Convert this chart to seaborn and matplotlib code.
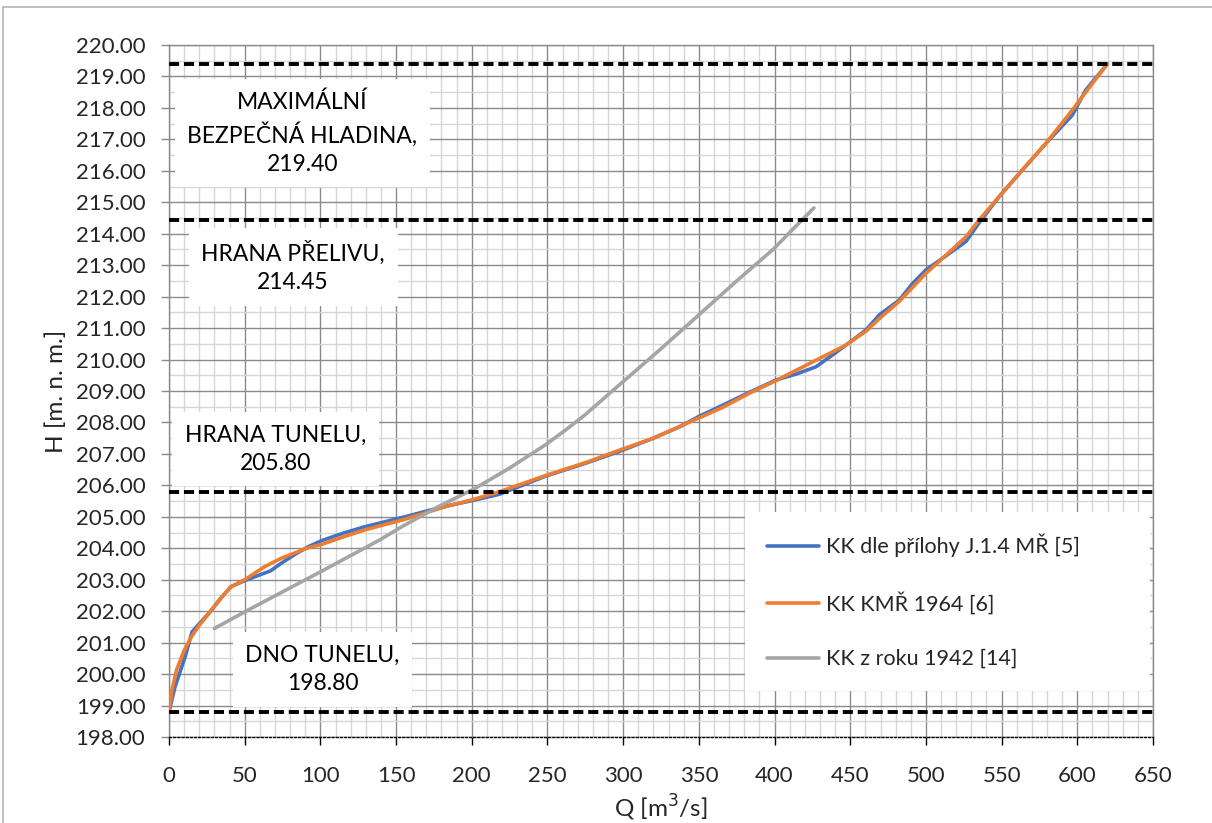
import numpy as np
import pandas as pd
import matplotlib
matplotlib.use("Agg")
import matplotlib.pyplot as plt
from matplotlib.lines import Line2D
from matplotlib.ticker import MultipleLocator, FixedLocator
import seaborn as sns

# Rating curve: KK dle přílohy J.1.4 MŘ [5]
q_j14 = [0, 4, 10.6, 15.2, 20, 27, 34, 41, 50, 58, 67, 74, 83, 92, 100.7, 115, 129,
         155.7, 181, 200.8, 218.4, 249.2, 275, 297.6, 320, 337.2, 350.4, 365.8, 383,
         401, 415, 427.4, 437, 447.2, 460.4, 469.2, 482.4, 491.2, 500, 511, 526.4,
         535.2, 548.4, 563.8, 579.2, 596.7, 605.6, 619.9]
h_j14 = [198.8, 199.6, 200.54, 201.34, 201.6, 201.97, 202.4, 202.78, 202.97, 203.12,
         203.28, 203.52, 203.8, 204.05, 204.24, 204.48, 204.68, 205.0, 205.32, 205.52,
         205.72, 206.3, 206.7, 207.08, 207.5, 207.86, 208.2, 208.55, 208.95, 209.35,
         209.55, 209.77, 210.1, 210.46, 210.94, 211.42, 211.89, 212.42, 212.85, 213.22,
         213.75, 214.35, 215.18, 216.03, 216.87, 217.77, 218.57, 219.4]

# Rating curve: KK KMŘ 1964 [6]
q_1964 = [0, 2, 5, 10, 15, 20, 27, 34, 41, 50, 63, 74, 92, 100.7, 115, 129, 155.7,
          181, 200.8, 218.4, 249.2, 275, 297.6, 320, 350.4, 365.8, 383, 401, 427.4,
          447.2, 460.4, 469.2, 482.4, 500, 511, 526.4, 535.2, 548.4, 563.8, 579.2,
          596.7, 605.6, 619.9]
h_1964 = [198.8, 199.5, 200.13, 200.75, 201.2, 201.55, 201.97, 202.4, 202.78, 203.0,
          203.41, 203.68, 204.02, 204.12, 204.36, 204.58, 204.92, 205.3, 205.55, 205.8,
          206.32, 206.72, 207.12, 207.5, 208.15, 208.48, 208.92, 209.33, 209.98,
          210.46, 210.9, 211.3, 211.85, 212.74, 213.22, 213.9, 214.44, 215.18, 216.03,
          216.87, 217.93, 218.5, 219.4]

# Rating curve: KK z roku 1942 [14]
q_1942 = [30, 52, 100, 139, 155, 179, 202, 225, 249, 262, 275, 297.6, 324, 337, 350,
          375, 399, 426]
h_1942 = [201.45, 202.03, 203.25, 204.26, 204.72, 205.35, 205.9, 206.55, 207.3, 207.76,
          208.25, 209.2, 210.3, 210.86, 211.42, 212.5, 213.5, 214.82]

series_names = ["KK dle přílohy J.1.4 MŘ [5]", "KK KMŘ 1964 [6]", "KK z roku 1942 [14]"]
series_colors = ["#4472C4", "#ED7D31", "#A5A5A5"]

# Reference levels
level_values = [219.40, 214.45, 205.80, 198.80]
level_labels = ["MAXIMÁLNÍ\nBEZPEČNÁ HLADINA,\n219.40",
                "HRANA PŘELIVU,\n214.45",
                "HRANA TUNELU,\n205.80",
                "DNO TUNELU,\n198.80"]
label_q = [88, 82, 70.5, 101.5]
label_h = [217.2, 212.95, 207.15, 200.15]

x_ticks = list(range(0, 651, 50))
y_ticks = list(np.arange(198, 220.01, 1.0))

df = pd.concat([
    pd.DataFrame({"Q": q_j14, "H": h_j14, "řada": series_names[0]}),
    pd.DataFrame({"Q": q_1964, "H": h_1964, "řada": series_names[1]}),
    pd.DataFrame({"Q": q_1942, "H": h_1942, "řada": series_names[2]}),
], ignore_index=True)

sns.set_theme(style="white")
plt.rcParams["font.family"] = ["Lato", "DejaVu Sans"]

W, H = 1212, 823
fig = plt.figure(figsize=(W / 100, H / 100), dpi=100)
fig.patch.set_facecolor("white")
left, right, top, bottom = 169, 1153, 45, 737
ax = fig.add_axes([left / W, 1 - bottom / H, (right - left) / W, (bottom - top) / H])

# outer chart frame
frame_kw = dict(color="#b4b4b4", lw=1.2, transform=fig.transFigure)
fig.add_artist(Line2D([3 / W, 3 / W], [0, 1 - 7 / H], **frame_kw))
fig.add_artist(Line2D([3 / W, 1], [1 - 7 / H, 1 - 7 / H], **frame_kw))

ax.set_xlim(0, 650)
ax.set_ylim(198, 220)
ax.xaxis.set_major_locator(FixedLocator(x_ticks))
ax.xaxis.set_minor_locator(MultipleLocator(10))
ax.yaxis.set_major_locator(FixedLocator(y_ticks))
ax.yaxis.set_minor_locator(MultipleLocator(0.5))
ax.set_yticklabels([f"{v:.2f}" for v in y_ticks])
ax.set_xticklabels([str(v) for v in x_ticks])

ax.grid(which="minor", color="#d6d6d6", lw=1.0, zorder=0)
ax.grid(which="major", color="#8a8a8a", lw=1.0, zorder=0)
ax.set_axisbelow(True)

sns.lineplot(data=df, x="Q", y="H", hue="řada", palette=series_colors,
             hue_order=series_names, estimator=None, sort=False, lw=2.6, ax=ax,
             zorder=3)
for ln in ax.get_lines():
    ln.set_solid_capstyle("round")
    ln.set_solid_joinstyle("round")

for lv in level_values:
    ax.axhline(lv, color="black", lw=2.8, ls=(0, (2.6, 1.25)), zorder=4, clip_on=False)

for txt, xq, yh in zip(level_labels, label_q, label_h):
    ax.text(xq, yh, txt, ha="center", va="center", fontsize=16.5, linespacing=1.42,
            color="black", zorder=5,
            bbox=dict(boxstyle="square,pad=0.55", fc="white", ec="none"))

for side in ["top", "right"]:
    ax.spines[side].set_visible(True)
    ax.spines[side].set_color("#8a8a8a")
    ax.spines[side].set_linewidth(1.0)
ax.spines["left"].set_color("#8a8a8a")
ax.spines["left"].set_linewidth(1.0)
ax.spines["bottom"].set_color("black")
ax.spines["bottom"].set_linewidth(1.0)
ax.spines["bottom"].set_linestyle((0, (1.5, 1.5)))

ax.tick_params(axis="y", which="major", direction="out", length=6, width=1,
               color="#8a8a8a", pad=11, labelsize=16, left=True)
ax.tick_params(axis="x", which="major", direction="out", length=6, width=1,
               color="black", pad=15, labelsize=16, bottom=True)
ax.tick_params(which="minor", length=0)
for t in ax.xaxis.get_major_ticks():
    t.tick1line.set_linestyle((0, (1.5, 1.5)))

ax.set_xlabel("Q [m$^3$/s]", fontsize=17.5, labelpad=5)
ax.set_ylabel("H [m. n. m.]", fontsize=17.5, labelpad=6)

leg = ax.legend(loc="center left", bbox_to_anchor=(0.5854, 0.0708, 0.4116, 0.25),
                mode="expand", frameon=True,
                fontsize=15.5, labelspacing=1.6, handlelength=2.45,
                handletextpad=0.3, borderpad=1.0, borderaxespad=0)
leg.get_frame().set_facecolor("white")
leg.get_frame().set_edgecolor("none")
leg.get_frame().set_alpha(1)
leg.get_frame().set_boxstyle("square", pad=0)
leg.set_zorder(6)
for h in leg.legend_handles:
    h.set_linewidth(2.6)

fig.savefig("out.png", dpi=100)
